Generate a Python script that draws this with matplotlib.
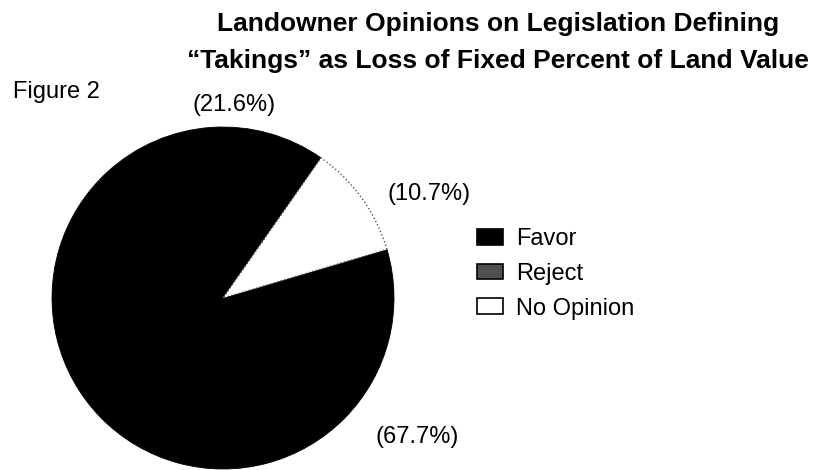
import matplotlib

matplotlib.use("Agg")
import matplotlib.pyplot as plt
from matplotlib.patches import Patch

plt.rcParams["font.family"] = ["Liberation Sans", "DejaVu Sans"]

# data
categories = ["Favor", "Reject", "No Opinion"]
shares = [67.7, 21.6, 10.7]
pie_colors = ["#000000", "#000000", "#ffffff"]
legend_colors = ["#000000", "#505050", "#ffffff"]
# label positions in data units (pie radius = 1)
label_pos = [(1.135, -0.813), (0.064, 1.129), (1.205, 0.608)]

W, H = 816, 470
cx, cy, r = 223, 172, 171  # pie centre / radius in pixels

fig = plt.figure(figsize=(W / 100, H / 100), dpi=100)
ax = fig.add_axes([0, 0, 1, 1])

wedges, _ = ax.pie(
    shares,
    colors=pie_colors,
    startangle=16.5,
    counterclock=False,
    wedgeprops=dict(linewidth=0.6, edgecolor="black"),
)
# the white slice only shows a faint dotted rim in the scan
wedges[2].set_edgecolor("#555555")
wedges[2].set_linewidth(1.0)
wedges[2].set_linestyle(":")

for val, (x, y) in zip(shares, label_pos):
    ax.text(x, y, f"({val}%)", ha="center", va="center", fontsize=17)

ax.set_xlim(-cx / r, (W - cx) / r)
ax.set_ylim(-cy / r, (H - cy) / r)
ax.set_aspect("equal")
ax.axis("off")

fig.text(0.610, 0.950, "Landowner Opinions on Legislation Defining",
         ha="center", va="center", fontsize=19, fontweight="bold")
fig.text(0.610, 0.870, "\u201cTakings\u201d as Loss of Fixed Percent of Land Value",
         ha="center", va="center", fontsize=19, fontweight="bold")
fig.text(13 / W, 0.804, "Figure 2", ha="left", va="center", fontsize=17)

handles = [Patch(facecolor=c, edgecolor="black", linewidth=1.2) for c in legend_colors]
fig.legend(handles, categories, loc="upper left",
           bbox_to_anchor=(477 / W, 1 - 228 / H), frameon=False, fontsize=17,
           handlelength=1.1, handleheight=0.64, handletextpad=0.55,
           labelspacing=0.54, borderpad=0, borderaxespad=0)

fig.savefig("out.png", dpi=100)
